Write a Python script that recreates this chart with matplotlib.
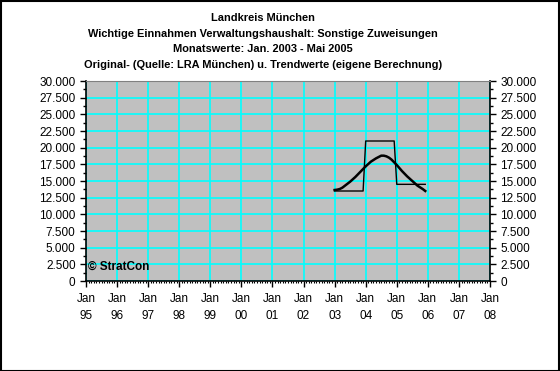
import matplotlib
matplotlib.use("Agg")
import matplotlib.pyplot as plt
from matplotlib.ticker import MultipleLocator, FixedLocator, FuncFormatter
import numpy as np

plt.rcParams['font.family'] = ['Liberation Sans', 'DejaVu Sans']

title_lines = [
    "Landkreis München",
    "Wichtige Einnahmen Verwaltungshaushalt: Sonstige Zuweisungen",
    "Monatswerte: Jan. 2003 - Mai 2005",
    "Original- (Quelle: LRA München) u. Trendwerte (eigene Berechnung)",
]

# monthly values Jan 2003 - Dec 2005
start_year = 2003
original = [13500] * 12 + [21000] * 12 + [14500] * 12
trend = [13650, 13700, 13800, 14000, 14300, 14600, 14900, 15250, 15600, 16000,
         16400, 16800, 17200, 17550, 17900, 18150, 18400, 18600, 18800, 18800,
         18700, 18500, 18200, 17800, 17400, 16950, 16500, 16100, 15700, 15350,
         15000, 14650, 14300, 14050, 13800, 13500]

year_ticks = list(range(1995, 2009))
tick_labels = ["Jan\n%02d" % (y % 100) for y in year_ticks]

x = [start_year + i / 12 for i in range(len(original))]

fig = plt.figure(figsize=(5.6, 3.71), dpi=100)
fig.patch.set_facecolor('white')
ax = fig.add_axes([86/560, 1 - 281/371, (490-86)/560, (281-81)/371])
ax.set_facecolor('#C0C0C0')

ax.set_xlim(1995, 2008)
ax.set_ylim(0, 30000)

ax.xaxis.set_major_locator(FixedLocator(year_ticks))
ax.set_xticklabels(tick_labels)
ax.xaxis.set_minor_locator(MultipleLocator(1/12))
ax.yaxis.set_major_locator(MultipleLocator(2500))
ax.yaxis.set_minor_locator(MultipleLocator(1250))
fmt = FuncFormatter(lambda v, p: f"{int(v):,}".replace(",", "."))
ax.yaxis.set_major_formatter(fmt)

ax.grid(True, which='major', color='#00FFFF', linewidth=1.2)
ax.set_axisbelow(True)

ax.plot(x, original, color='black', linewidth=1.0, zorder=3)
ax.plot(x, trend, color='black', linewidth=1.8, zorder=4)

ax.tick_params(axis='both', which='major', direction='out', length=4, width=1,
               labelsize=8.5, color='black')
ax.tick_params(axis='x', which='major', pad=5)
ax.tick_params(axis='x', which='minor', direction='out', length=1.5, width=0.8)
ax.tick_params(axis='y', which='minor', direction='out', length=2, width=1)
ax.tick_params(axis='y', which='both', right=True, labelright=True)
for lbl in ax.get_xticklabels():
    lbl.set_linespacing(1.55)

for s in ['left', 'right', 'bottom']:
    ax.spines[s].set_color('black')
    ax.spines[s].set_linewidth(1.2)
ax.spines['top'].set_color('#808080')

ax.text(0.005, 0.07, "© StratCon", transform=ax.transAxes, fontsize=8.5,
        fontweight='bold', ha='left', va='center', zorder=5)

ys = [18, 34, 49, 65]
for t, yy in zip(title_lines, ys):
    fig.text(263/560, 1 - yy/371, t, ha='center', va='center', fontsize=7.9,
             fontweight='bold')

# figure border
fig.add_artist(plt.Rectangle((0.001, 0.001), 0.997, 0.997, transform=fig.transFigure,
                             fill=False, edgecolor='black', linewidth=1.5))

fig.savefig("out.png", dpi=100)
